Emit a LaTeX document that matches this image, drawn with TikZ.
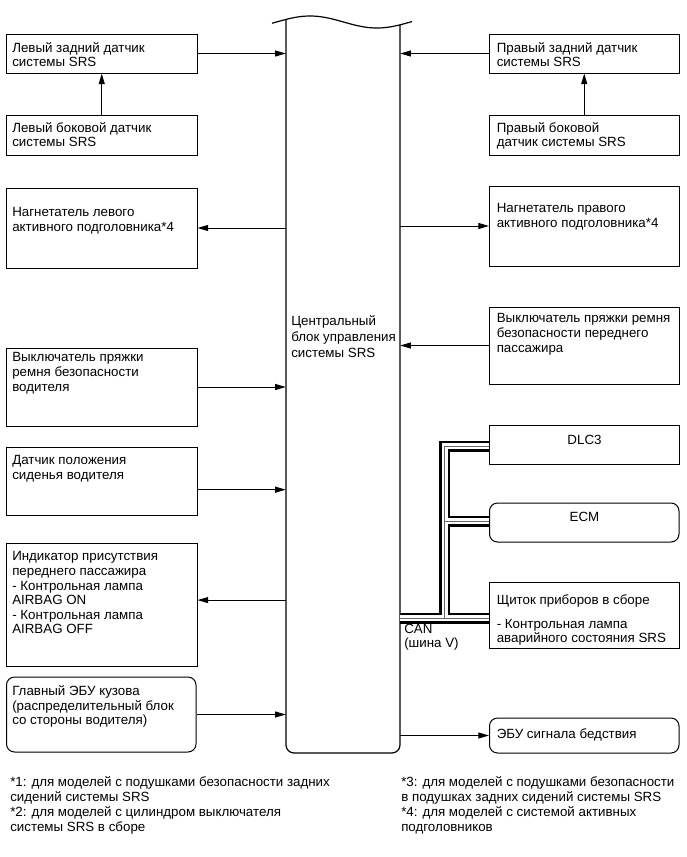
\documentclass[tikz,border=0pt]{standalone}
\usepackage{fontspec}
\setmainfont{Liberation Sans}
\usetikzlibrary{arrows.meta,fit,calc}
\newcommand{\canpaths}[1]{%
  \draw[#1] (dlc.west |- canA) -- (canA) -- (canC);
  \draw[#1] (canB) -- (canB -| ecm.west);
  \draw[#1] (canC -| ecu.east) -- (canC -| meter.west);
}
\begin{document}
\begin{tikzpicture}[x=0.75pt,y=-0.75pt,
  box/.style={draw, line width=0.75pt, inner sep=0pt, fit={#1}},
  rbox/.style={box={#1}, rounded corners=6pt},
  txt/.style={font=\fontsize{10pt}{10.9pt}\selectfont, align=left, inner sep=0pt, anchor=north west},
  ctxt/.style={font=\fontsize{10pt}{10.9pt}\selectfont, inner sep=0pt},
  arr/.style={line width=0.75pt, -{Triangle[length=8pt,width=4.5pt]}},
  blk/.style={line width=0.9pt}
]
\useasboundingbox (0,0) rectangle (686,857);
% central block
\node[inner sep=0pt, fit={(286,20) (400,753)}] (ecu) {};
\draw[blk] plot[domain=272:412, samples=60, smooth] (\x, {22-6*sin(2.6866*(\x-276.5))});
\draw[blk, rounded corners=6pt] (286,19.4) -- (286,753) -- (400,753) -- (400,24.8);
\node[txt, font=\fontsize{10pt}{11.8pt}\selectfont] (ecut) at (291,315.5) {Центральный\\блок управления\\системы SRS};

% left boxes
\node[box={(6.5,34) (197,73)}] (lrear) {};
\node[txt] (lreart) at (12,42) {Левый задний датчик\\системы SRS};
\node[box={(6.5,115) (197,155)}] (lside) {};
\node[txt] (lsidet) at (12,122) {Левый боковой датчик\\системы SRS};
\node[box={(6.5,188) (197,268)}] (linfl) {};
\node[txt] (linflt) at (12,207.5) {Нагнетатель левого\\активного подголовника*4};
\node[box={(6.5,348) (197,426)}] (lbuck) {};
\node[txt] (lbuckt) at (12,352.5) {Выключатель пряжки\\ремня безопасности\\водителя};
\node[box={(6.5,447) (197,515)}] (lseat) {};
\node[txt] (lseatt) at (12,455.5) {Датчик положения\\сиденья водителя};
\node[box={(6.5,543) (197,666)}] (lind) {};
\node[txt] (lindt) at (12,551.5) {Индикатор присутствия\\переднего пассажира\\- Контрольная лампа\\AIRBAG ON\\- Контрольная лампа\\AIRBAG OFF};
\node[rbox={(6.5,677) (196,752)}] (body) {};
\node[txt] (bodyt) at (12,685.5) {Главный ЭБУ кузова\\(распределительный блок\\со стороны водителя)};

% right boxes
\node[box={(489.5,34) (679,73)}] (rrear) {};
\node[txt] (rreart) at (496.5,42) {Правый задний датчик\\системы SRS};
\node[box={(489.5,115) (679,155)}] (rside) {};
\node[txt] (rsidet) at (496.5,122) {Правый боковой\\датчик системы SRS};
\node[box={(489.5,186) (679,266)}] (rinfl) {};
\node[txt] (rinflt) at (496.5,203.5) {Нагнетатель правого\\активного подголовника*4};
\node[box={(489.5,307) (679,384)}] (pbuck) {};
\node[txt] (pbuckt) at (496.5,313.5) {Выключатель пряжки ремня\\безопасности переднего\\пассажира};
\node[box={(489.5,425) (679,464)}] (dlc) {};
\node[ctxt] (dlct) at (584.5,440) {DLC3};
\node[rbox={(489.5,503) (679,542)}] (ecm) {};
\node[ctxt] (ecmt) at (584.5,517) {ECM};
\node[box={(489.5,582) (679,648)}] (meter) {};
\node[txt] (metert) at (496.5,594.5) {Щиток приборов в сборе\\[7pt]- Контрольная лампа\\аварийного состояния SRS};
\node[rbox={(489.5,718) (679,753)}] (gsig) {};
\node[txt] (gsigt) at (496.5,728.5) {ЭБУ сигнала бедствия};

% arrows
\draw[arr] (lrear.east) -- (lrear.east -| ecu.west);
\draw[arr] (lside.north) -- (lside.north |- lrear.south);
\draw[arr] (rrear.west) -- (rrear.west -| ecu.east);
\draw[arr] (rside.north) -- (rside.north |- rrear.south);
\draw[arr] (linfl.east -| ecu.west) -- (linfl.east);
\draw[arr] (rinfl.west -| ecu.east) -- (rinfl.west);
\draw[arr] (lbuck.east) -- (lbuck.east -| ecu.west);
\draw[arr] (pbuck.west) -- (pbuck.west -| ecu.east);
\draw[arr] ([yshift=-6.5pt]lseat.east) -- ([yshift=-6.5pt]lseat.east -| ecu.west);
\draw[arr] ([yshift=3.3pt]lind.east -| ecu.west) -- ([yshift=3.3pt]lind.east);
\draw[arr] (body.east) -- (body.east -| ecu.west);
\draw[arr] (gsig.west -| ecu.east) -- (gsig.west);

% CAN bus
\coordinate (canA) at (444.5,446);
\coordinate (canB) at (444.5,521);
\coordinate (canC) at (444.5,618);
\canpaths{line width=8.25pt, black, line join=miter}
\canpaths{line width=4.5pt, white, line join=miter}
\canpaths{line width=0.5pt, black!60, line join=miter}
\node[txt] (cant) at (404,623.5) {CAN\\(шина V)};

% footnotes
\node[txt, font=\fontsize{10pt}{11.25pt}\selectfont] (fnl) at (10,776.5) {*1: для моделей с подушками безопасности задних\\сидений системы SRS\\*2: для моделей с цилиндром выключателя\\системы SRS в сборе};
\node[txt, font=\fontsize{10pt}{11.25pt}\selectfont] (fnr) at (401,776.5) {*3: для моделей с подушками безопасности\\в подушках задних сидений системы SRS\\*4: для моделей с системой активных\\подголовников};
\end{tikzpicture}
\end{document}
